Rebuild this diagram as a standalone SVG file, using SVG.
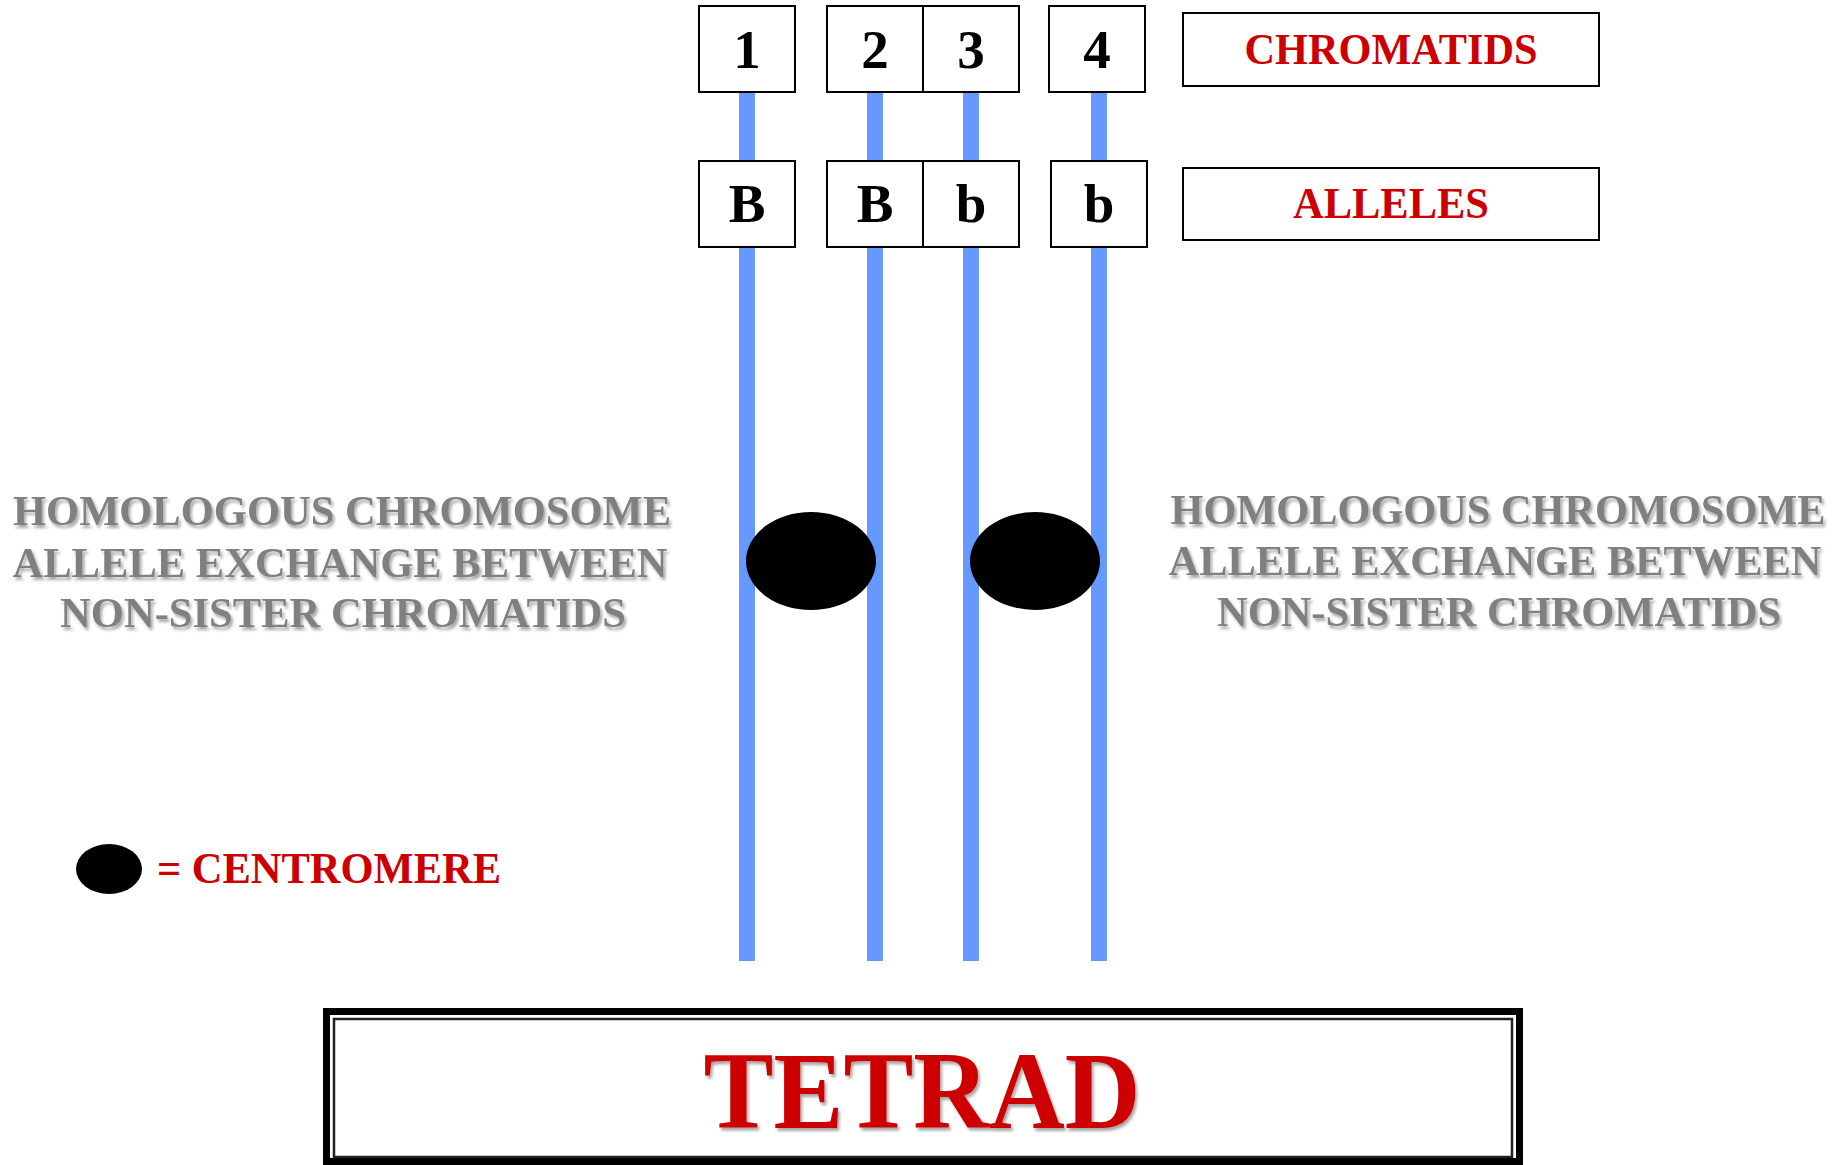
<svg xmlns="http://www.w3.org/2000/svg" width="1847" height="1165" viewBox="0 0 1847 1165">
<defs>
<filter id="shadow" x="-5%" y="-20%" width="110%" height="150%">
<feDropShadow dx="2" dy="3" stdDeviation="1.6" flood-color="#000" flood-opacity="0.35"/>
</filter>
<style>
.box{fill:#fff;stroke:#000;stroke-width:2}
.num{font-family:"Liberation Serif","Times New Roman",serif;font-weight:bold;font-size:55px;fill:#000;text-anchor:middle}
.lbl{font-family:"Liberation Serif","Times New Roman",serif;font-weight:bold;font-size:45px;fill:#cc0000;text-anchor:middle}
.grey{font-family:"Liberation Serif","Times New Roman",serif;font-weight:bold;font-size:43px;fill:#808080;text-anchor:middle}
.chrom{stroke:#6699ff;stroke-width:16;fill:none}
.cen{fill:#000}
</style>
</defs>
<rect width="1847" height="1165" fill="#fff"/>

<g id="connectors">
<line class="chrom" x1="747" y1="92" x2="747" y2="961"/>
<line class="chrom" x1="875" y1="92" x2="875" y2="961"/>
<line class="chrom" x1="971" y1="92" x2="971" y2="961"/>
<line class="chrom" x1="1099" y1="92" x2="1099" y2="961"/>
</g>

<g id="chromatid-1"><rect class="box" x="699" y="6" width="96" height="86"/><text class="num" x="747" y="68">1</text></g>
<g id="chromatid-2"><rect class="box" x="827" y="6" width="96" height="86"/><text class="num" x="875" y="68">2</text></g>
<g id="chromatid-3"><rect class="box" x="923" y="6" width="96" height="86"/><text class="num" x="971" y="68">3</text></g>
<g id="chromatid-4"><rect class="box" x="1049" y="6" width="96" height="86"/><text class="num" x="1097" y="68">4</text></g>

<g id="allele-1"><rect class="box" x="699" y="161" width="96" height="86"/><text class="num" x="747" y="222">B</text></g>
<g id="allele-2"><rect class="box" x="827" y="161" width="96" height="86"/><text class="num" x="875" y="222">B</text></g>
<g id="allele-3"><rect class="box" x="923" y="161" width="96" height="86"/><text class="num" x="971" y="222">b</text></g>
<g id="allele-4"><rect class="box" x="1051" y="161" width="96" height="86"/><text class="num" x="1099" y="222">b</text></g>

<g id="label-chromatids"><rect class="box" x="1183" y="13" width="416" height="73"/><text class="lbl" x="1391" y="64" textLength="293" lengthAdjust="spacingAndGlyphs">CHROMATIDS</text></g>
<g id="label-alleles"><rect class="box" x="1183" y="168" width="416" height="72"/><text class="lbl" x="1391" y="218" textLength="196" lengthAdjust="spacingAndGlyphs">ALLELES</text></g>

<g id="centromere-1"><ellipse class="cen" cx="811" cy="561" rx="65" ry="49"/></g>
<g id="centromere-2"><ellipse class="cen" cx="1035" cy="561" rx="65" ry="49"/></g>

<g id="text-left" filter="url(#shadow)">
<text class="grey" x="342" y="525" textLength="658" lengthAdjust="spacingAndGlyphs">HOMOLOGOUS CHROMOSOME</text>
<text class="grey" x="340" y="577" textLength="655" lengthAdjust="spacingAndGlyphs">ALLELE EXCHANGE BETWEEN</text>
<text class="grey" x="343" y="627" textLength="566" lengthAdjust="spacingAndGlyphs">NON-SISTER CHROMATIDS</text>
</g>
<g id="text-right" filter="url(#shadow)">
<text class="grey" x="1498" y="524" textLength="655" lengthAdjust="spacingAndGlyphs">HOMOLOGOUS CHROMOSOME</text>
<text class="grey" x="1495" y="575" textLength="653" lengthAdjust="spacingAndGlyphs">ALLELE EXCHANGE BETWEEN</text>
<text class="grey" x="1499" y="626" textLength="564" lengthAdjust="spacingAndGlyphs">NON-SISTER CHROMATIDS</text>
</g>

<g id="legend">
<ellipse class="cen" cx="109" cy="869" rx="33" ry="25"/>
<text class="lbl" x="157" y="883" style="text-anchor:start" textLength="344" lengthAdjust="spacingAndGlyphs">= CENTROMERE</text>
</g>

<g id="tetrad">
<rect x="326.5" y="1011.5" width="1193" height="150" fill="#fff" stroke="#000" stroke-width="7"/>
<rect x="334" y="1019" width="1178" height="138" fill="none" stroke="#222" stroke-width="2.5"/>
<text x="922" y="1128" filter="url(#shadow)" style="font-family:'Liberation Serif','Times New Roman',serif;font-weight:bold;font-size:110px;fill:#cc0000;text-anchor:middle" textLength="437" lengthAdjust="spacingAndGlyphs">TETRAD</text>
</g>
</svg>
